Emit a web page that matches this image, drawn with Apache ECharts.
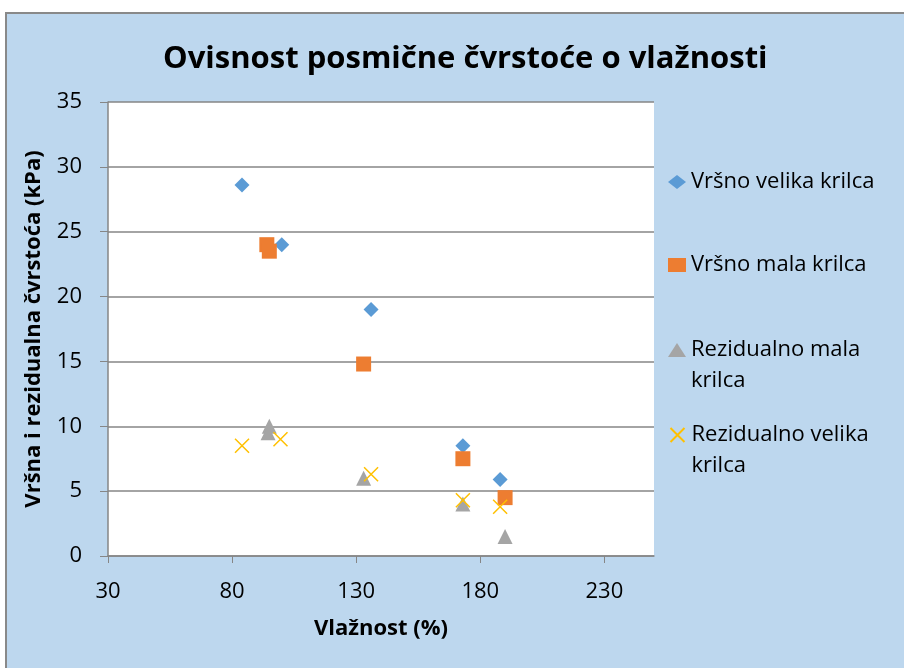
<!DOCTYPE html>
<html>
<head>
<meta charset="utf-8">
<script src="https://cdn.jsdelivr.net/npm/echarts@6/dist/echarts.min.js"></script>
<style>
  html, body { margin: 0; padding: 0; background: #fff; }
  #chart { width: 904px; height: 668px; }
</style>
</head>
<body>
<div id="chart"></div>
<script>
// podaci očitani s grafa
var seriesNames = ['Vršno velika krilca', 'Vršno mala krilca', 'Rezidualno mala krilca', 'Rezidualno velika krilca']
var legendLabels = ['Vršno velika krilca', 'Vršno mala krilca', 'Rezidualno mala\nkrilca', 'Rezidualno velika\nkrilca']
var vrsnoVelika = [[84, 28.6], [100, 24], [136, 19], [173, 8.5], [188, 5.9]]
var vrsnoMala = [[94, 24], [95, 23.5], [133, 14.8], [173, 7.5], [190, 4.5]]
var rezMala = [[95, 10], [94.5, 9.5], [133, 6], [173, 4], [190, 1.5]]
var rezVelika = [[84, 8.5], [99.5, 9], [136, 6.3], [173, 4.3], [188, 3.8]]
var xTicks = [30, 80, 130, 180, 230]

var font = '"Open Sans", sans-serif'
var gridColor = '#868686'

var myChart = echarts.init(document.getElementById('chart'))

// legenda: svaka stavka posebno; kod dvoredne stavke prazan red na vrhu
// drži marker u visini prvog reda
var legendTops = [166.5, 249.5, 303.5, 388.5]
var legends = seriesNames.map(function (name, i) {
  var multi = legendLabels[i].indexOf('\n') >= 0
  return {
    orient: 'vertical',
    left: 668,
    top: legendTops[i],
    padding: 0,
    itemWidth: 18,
    itemHeight: 14,
    selectedMode: false,
    formatter: function (n) {
      var lbl = legendLabels[seriesNames.indexOf(n)]
      return multi ? '\n' + lbl : lbl
    },
    textStyle: { fontFamily: font, fontSize: 22, color: '#000', lineHeight: 31 },
    data: [name]
  }
})

var option = {
  backgroundColor: '#fff',
  animation: false,
  graphic: [{
    type: 'rect',
    z: -10,
    shape: { x: 6, y: 13, width: 920, height: 700 },
    style: { fill: '#BDD7EE', stroke: '#898989', lineWidth: 2 }
  }],
  title: {
    text: 'Ovisnost posmične čvrstoće o vlažnosti',
    left: 163,
    top: 44,
    padding: 0,
    textStyle: { fontFamily: font, fontSize: 31, fontWeight: 'bold', color: '#000' }
  },
  legend: legends,
  grid: { left: 108, top: 102, right: 250, bottom: 112, show: true, backgroundColor: '#fff', borderWidth: 0 },
  xAxis: {
    type: 'value',
    min: 30,
    max: 250,
    interval: 50,
    name: 'Vlažnost (%)',
    nameLocation: 'middle',
    nameGap: 62,
    nameTextStyle: { fontFamily: font, fontSize: 22, fontWeight: 'bold', color: '#000' },
    splitLine: { show: false },
    axisLine: { show: true, lineStyle: { color: gridColor, width: 1.5 } },
    axisTick: { show: true, length: 7, lineStyle: { color: gridColor }, customValues: xTicks },
    axisLabel: { margin: 25, fontFamily: font, fontSize: 22, color: '#000', customValues: xTicks }
  },
  yAxis: {
    type: 'value',
    min: 0,
    max: 35,
    interval: 5,
    name: 'Vršna i rezidualna čvrstoća (kPa)',
    nameLocation: 'middle',
    nameGap: 63,
    nameTextStyle: { fontFamily: font, fontSize: 22, fontWeight: 'bold', color: '#000' },
    splitLine: { show: true, lineStyle: { color: gridColor, width: 1.5 } },
    axisLine: { show: true, lineStyle: { color: gridColor, width: 1.5 } },
    axisTick: { show: true, length: 8, lineStyle: { color: gridColor } },
    axisLabel: { margin: 26, fontFamily: font, fontSize: 22, color: '#000' }
  },
  series: [
    {
      name: seriesNames[0],
      type: 'scatter',
      symbol: 'diamond',
      symbolSize: 15,
      itemStyle: { color: '#5B9BD5', opacity: 1 },
      data: vrsnoVelika
    },
    {
      name: seriesNames[1],
      type: 'scatter',
      symbol: 'rect',
      symbolSize: 15,
      itemStyle: { color: '#ED7D31', opacity: 1 },
      data: vrsnoMala
    },
    {
      name: seriesNames[2],
      type: 'scatter',
      symbol: 'triangle',
      symbolSize: 15,
      itemStyle: { color: '#A5A5A5', opacity: 1 },
      data: rezMala
    },
    {
      name: seriesNames[3],
      type: 'scatter',
      symbol: 'path://M0,0L10,10M10,0L0,10',
      symbolSize: 14,
      itemStyle: { color: 'none', borderColor: '#FFC000', borderWidth: 1.5, opacity: 1 },
      data: rezVelika
    }
  ]
}

option && myChart.setOption(option)
</script>
</body>
</html>
